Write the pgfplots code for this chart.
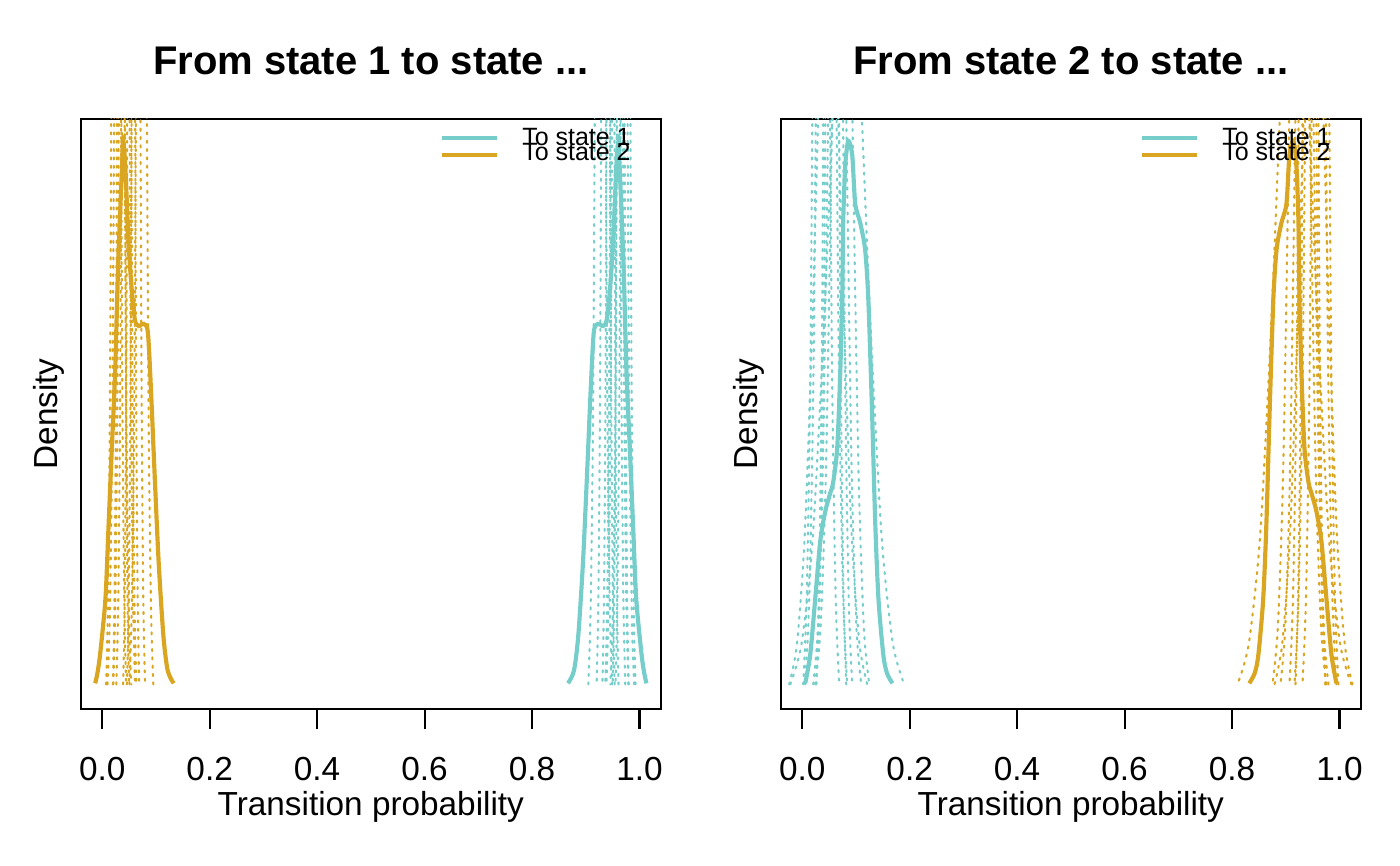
\documentclass[border=0pt]{standalone}
\usepackage{fontspec}
\setmainfont{Liberation Sans}
\usepackage{pgfplots}
\pgfplotsset{compat=1.18}
\definecolor{tealc}{RGB}{118,206,203}
\definecolor{goldc}{RGB}{218,165,32}

\pgfplotsset{
  soliddens/.style={line width=1.5bp, smooth, tension=0.45, mark=none},
  dotdens/.style={line width=0.75bp, smooth, tension=0.45, mark=none,
    line cap=round, dash pattern=on 0.75bp off 2.25bp},
  panel/.style={
    scale only axis, width=208.9bp, height=212.4bp,
    xmin=-0.04, xmax=1.04, ymin=-0.04, ymax=1.04,
    axis line style={line width=0.75bp},
    xtick={0,0.2,0.4,0.6,0.8,1}, xticklabels={0.0,0.2,0.4,0.6,0.8,1.0},
    xtick pos=bottom, tick align=outside, major tick length=7.2bp,
    every tick/.style={black, line width=0.75bp},
    ytick=\empty,
    /pgf/number format/assume math mode=true,
    ticklabel style={font=\fontsize{12bp}{14bp}\selectfont},
    xticklabel style={anchor=base, yshift=-18.4bp},
    every axis x label/.style={at={(axis description cs:0.5,0)}, anchor=base,
      yshift=-38.5bp, font=\fontsize{12bp}{14bp}\selectfont},
    every axis y label/.style={at={(axis description cs:-0.0407,0.5)}, anchor=base,
      rotate=90, font=\fontsize{12bp}{14bp}\selectfont},
    title style={at={(axis description cs:0.5,1)}, anchor=base, yshift=10.1bp,
      font=\bfseries\fontsize{14.4bp}{17bp}\selectfont},
    xlabel={Transition probability}, ylabel={Density},
  },
}

\begin{document}
\begin{tikzpicture}
\path (0,0) rectangle (504bp,311.76bp);

% ---------- left panel: from state 1 ----------
\begin{axis}[panel, at={(29.05bp,56.52bp)}, anchor=south west,
  title={From state 1 to state ...}]
% individual densities, to state 2
\addplot[dotdens, goldc] coordinates {(0.0074,0.005) (0.0111,0.17) (0.0148,0.59) (0.0186,1.46) (0.026,3.0) (0.0334,1.46) (0.0372,0.59) (0.0409,0.17) (0.0446,0.005)};
\addplot[dotdens, goldc] coordinates {(0.020,0.005) (0.023,0.17) (0.026,0.59) (0.029,1.46) (0.035,3.0) (0.041,1.46) (0.044,0.59) (0.047,0.17) (0.050,0.005)};
\addplot[dotdens, goldc] coordinates {(0.0264,0.005) (0.0301,0.17) (0.0338,0.59) (0.0376,1.46) (0.045,3.0) (0.0524,1.46) (0.0562,0.59) (0.0599,0.17) (0.0636,0.005)};
\addplot[dotdens, goldc] coordinates {(0.039,0.005) (0.042,0.17) (0.045,0.59) (0.048,1.46) (0.054,3.0) (0.060,1.46) (0.063,0.59) (0.066,0.17) (0.069,0.005)};
\addplot[dotdens, goldc] coordinates {(0.0462,0.005) (0.0496,0.17) (0.0529,0.59) (0.0563,1.46) (0.063,3.0) (0.0697,1.46) (0.0731,0.59) (0.0764,0.17) (0.0798,0.005)};
\addplot[dotdens, goldc] coordinates {(0.0508,0.005) (0.0552,0.15) (0.0597,0.51) (0.0641,1.27) (0.073,2.6) (0.0819,1.27) (0.0863,0.51) (0.0908,0.15) (0.0952,0.005)};
\addplot[dotdens, goldc] coordinates {(0.0206,0.005) (0.0247,0.17) (0.0288,0.59) (0.0328,1.46) (0.041,3.0) (0.0492,1.46) (0.0532,0.59) (0.0573,0.17) (0.0614,0.005)};
\addplot[dotdens, goldc] coordinates {(0.0098,0.005) (0.0142,0.13) (0.0187,0.47) (0.0231,1.17) (0.032,2.4) (0.0409,1.17) (0.0453,0.47) (0.0498,0.13) (0.0542,0.005)};
% individual densities, to state 1
\addplot[dotdens, tealc] coordinates {(0.9926,0.005) (0.9889,0.17) (0.9852,0.59) (0.9814,1.46) (0.974,3.0) (0.9666,1.46) (0.9628,0.59) (0.9591,0.17) (0.9554,0.005)};
\addplot[dotdens, tealc] coordinates {(0.980,0.005) (0.977,0.17) (0.974,0.59) (0.971,1.46) (0.965,3.0) (0.959,1.46) (0.956,0.59) (0.953,0.17) (0.950,0.005)};
\addplot[dotdens, tealc] coordinates {(0.9736,0.005) (0.9699,0.17) (0.9662,0.59) (0.9624,1.46) (0.955,3.0) (0.9476,1.46) (0.9438,0.59) (0.9401,0.17) (0.9364,0.005)};
\addplot[dotdens, tealc] coordinates {(0.961,0.005) (0.958,0.17) (0.955,0.59) (0.952,1.46) (0.946,3.0) (0.940,1.46) (0.937,0.59) (0.934,0.17) (0.931,0.005)};
\addplot[dotdens, tealc] coordinates {(0.9538,0.005) (0.9504,0.17) (0.9471,0.59) (0.9437,1.46) (0.937,3.0) (0.9303,1.46) (0.9269,0.59) (0.9236,0.17) (0.9202,0.005)};
\addplot[dotdens, tealc] coordinates {(0.9492,0.005) (0.9448,0.15) (0.9403,0.51) (0.9359,1.27) (0.927,2.6) (0.9181,1.27) (0.9137,0.51) (0.9092,0.15) (0.9048,0.005)};
\addplot[dotdens, tealc] coordinates {(0.9794,0.005) (0.9753,0.17) (0.9712,0.59) (0.9672,1.46) (0.959,3.0) (0.9508,1.46) (0.9468,0.59) (0.9427,0.17) (0.9386,0.005)};
\addplot[dotdens, tealc] coordinates {(0.9902,0.005) (0.9858,0.13) (0.9813,0.47) (0.9769,1.17) (0.968,2.4) (0.9591,1.17) (0.9547,0.47) (0.9502,0.13) (0.9458,0.005)};
% pooled densities
\addplot[soliddens, goldc] coordinates {(-0.013,0.007) (-0.009,0.025) (-0.004,0.059) (0.006,0.161) (0.012,0.299) (0.018,0.438) (0.024,0.575) (0.030,0.782) (0.037,0.954) (0.039,1.0) (0.043,0.954) (0.049,0.815) (0.055,0.727) (0.061,0.672) (0.068,0.661) (0.077,0.665) (0.085,0.650) (0.091,0.540) (0.097,0.403) (0.105,0.231) (0.114,0.093) (0.122,0.030) (0.133,0.007)};
\addplot[soliddens, tealc] coordinates {(1.013,0.007) (1.009,0.025) (1.004,0.059) (0.994,0.161) (0.988,0.299) (0.982,0.438) (0.976,0.575) (0.970,0.782) (0.963,0.954) (0.961,1.0) (0.957,0.954) (0.951,0.815) (0.945,0.727) (0.939,0.672) (0.932,0.661) (0.923,0.665) (0.915,0.650) (0.909,0.540) (0.903,0.403) (0.895,0.231) (0.886,0.093) (0.878,0.030) (0.867,0.007)};
% legend
\draw[tealc, line width=1.5bp] (rel axis cs:0.622,0.968) -- (rel axis cs:0.717,0.968);
\draw[goldc, line width=1.5bp] (rel axis cs:0.622,0.939) -- (rel axis cs:0.717,0.939);
\node[anchor=west, inner sep=0pt, font=\fontsize{9bp}{10bp}\selectfont] at (rel axis cs:0.760,0.970) {To state 1};
\node[anchor=west, inner sep=0pt, font=\fontsize{9bp}{10bp}\selectfont] at (rel axis cs:0.760,0.944) {To state 2};
\end{axis}

% ---------- right panel: from state 2 ----------
\begin{axis}[panel, at={(281.05bp,56.52bp)}, anchor=south west,
  title={From state 2 to state ...}]
% individual densities, to state 1
\addplot[dotdens, tealc] coordinates {(-0.0223,0.005) (-0.0011,0.08) (0.0201,0.28) (0.0413,0.68) (0.0626,1.17) (0.0838,1.4) (0.1050,1.17) (0.1263,0.68) (0.1475,0.28) (0.1687,0.08) (0.1899,0.005)};
\addplot[dotdens, tealc] coordinates {(0.0056,0.005) (0.0134,0.17) (0.0212,0.59) (0.0291,1.46) (0.0447,3.0) (0.0603,1.46) (0.0682,0.59) (0.0760,0.17) (0.0838,0.005)};
\addplot[dotdens, tealc] coordinates {(0.0261,0.005) (0.0317,0.2) (0.0372,0.69) (0.0428,1.7) (0.0540,3.5) (0.0652,1.7) (0.0708,0.69) (0.0764,0.2) (0.0819,0.005)};
\addplot[dotdens, tealc] coordinates {(0.0019,0.005) (0.0086,0.17) (0.0153,0.59) (0.0220,1.46) (0.0354,3.0) (0.0488,1.46) (0.0555,0.59) (0.0622,0.17) (0.0689,0.005)};
\addplot[dotdens, tealc] coordinates {(0.0205,0.005) (0.0294,0.11) (0.0384,0.4) (0.0473,0.97) (0.0562,1.67) (0.0652,2.0) (0.0741,1.67) (0.0831,0.97) (0.0920,0.4) (0.1009,0.11) (0.1099,0.005)};
\addplot[dotdens, tealc] coordinates {(0.0242,0.005) (0.0343,0.11) (0.0443,0.4) (0.0544,0.97) (0.0644,1.67) (0.0745,2.0) (0.0845,1.67) (0.0946,0.97) (0.1047,0.4) (0.1147,0.11) (0.1248,0.005)};
\addplot[dotdens, tealc] coordinates {(0.0261,0.005) (0.0328,0.17) (0.0395,0.59) (0.0462,1.46) (0.0596,3.0) (0.0730,1.46) (0.0797,0.59) (0.0864,0.17) (0.0931,0.005)};
\addplot[dotdens, tealc] coordinates {(-0.0242,0.005) (-0.0097,0.08) (0.0048,0.28) (0.0194,0.68) (0.0339,1.17) (0.0484,1.4) (0.0629,1.17) (0.0775,0.68) (0.0920,0.28) (0.1065,0.08) (0.1210,0.005)};
% individual densities, to state 2
\addplot[dotdens, goldc] coordinates {(1.0223,0.005) (1.0011,0.08) (0.9799,0.28) (0.9587,0.68) (0.9374,1.17) (0.9162,1.4) (0.8950,1.17) (0.8737,0.68) (0.8525,0.28) (0.8313,0.08) (0.8101,0.005)};
\addplot[dotdens, goldc] coordinates {(0.9944,0.005) (0.9866,0.17) (0.9788,0.59) (0.9709,1.46) (0.9553,3.0) (0.9397,1.46) (0.9318,0.59) (0.9240,0.17) (0.9162,0.005)};
\addplot[dotdens, goldc] coordinates {(0.9739,0.005) (0.9683,0.2) (0.9628,0.69) (0.9572,1.7) (0.9460,3.5) (0.9348,1.7) (0.9292,0.69) (0.9236,0.2) (0.9181,0.005)};
\addplot[dotdens, goldc] coordinates {(0.9981,0.005) (0.9914,0.17) (0.9847,0.59) (0.9780,1.46) (0.9646,3.0) (0.9512,1.46) (0.9445,0.59) (0.9378,0.17) (0.9311,0.005)};
\addplot[dotdens, goldc] coordinates {(0.9795,0.005) (0.9706,0.11) (0.9616,0.4) (0.9527,0.97) (0.9438,1.67) (0.9348,2.0) (0.9259,1.67) (0.9169,0.97) (0.9080,0.4) (0.8991,0.11) (0.8901,0.005)};
\addplot[dotdens, goldc] coordinates {(0.9758,0.005) (0.9657,0.11) (0.9557,0.4) (0.9456,0.97) (0.9356,1.67) (0.9255,2.0) (0.9155,1.67) (0.9054,0.97) (0.8953,0.4) (0.8853,0.11) (0.8752,0.005)};
\addplot[dotdens, goldc] coordinates {(0.9739,0.005) (0.9672,0.17) (0.9605,0.59) (0.9538,1.46) (0.9404,3.0) (0.9270,1.46) (0.9203,0.59) (0.9136,0.17) (0.9069,0.005)};
\addplot[dotdens, goldc] coordinates {(1.0242,0.005) (1.0097,0.08) (0.9952,0.28) (0.9806,0.68) (0.9661,1.17) (0.9516,1.4) (0.9371,1.17) (0.9225,0.68) (0.9080,0.28) (0.8935,0.08) (0.8790,0.005)};
% pooled densities
\addplot[soliddens, tealc] coordinates {(0.0056,0.007) (0.0149,0.059) (0.0242,0.161) (0.0335,0.266) (0.0428,0.321) (0.0521,0.355) (0.0577,0.375) (0.0652,0.438) (0.0708,0.575) (0.0745,0.712) (0.0763,0.850) (0.0801,0.954) (0.0857,1.0) (0.0931,0.974) (0.0987,0.885) (0.108,0.850) (0.117,0.802) (0.123,0.712) (0.130,0.505) (0.136,0.300) (0.142,0.161) (0.151,0.059) (0.158,0.025) (0.168,0.007)};
\addplot[soliddens, goldc] coordinates {(0.9944,0.007) (0.9851,0.059) (0.9758,0.161) (0.9665,0.266) (0.9572,0.321) (0.9479,0.355) (0.9423,0.375) (0.9348,0.438) (0.9292,0.575) (0.9255,0.712) (0.9237,0.850) (0.9199,0.954) (0.9143,1.0) (0.9069,0.974) (0.9013,0.885) (0.892,0.850) (0.883,0.802) (0.877,0.712) (0.870,0.505) (0.864,0.300) (0.858,0.161) (0.849,0.059) (0.842,0.025) (0.832,0.007)};
% legend
\draw[tealc, line width=1.5bp] (rel axis cs:0.622,0.968) -- (rel axis cs:0.717,0.968);
\draw[goldc, line width=1.5bp] (rel axis cs:0.622,0.939) -- (rel axis cs:0.717,0.939);
\node[anchor=west, inner sep=0pt, font=\fontsize{9bp}{10bp}\selectfont] at (rel axis cs:0.760,0.970) {To state 1};
\node[anchor=west, inner sep=0pt, font=\fontsize{9bp}{10bp}\selectfont] at (rel axis cs:0.760,0.944) {To state 2};
\end{axis}
\end{tikzpicture}
\end{document}
